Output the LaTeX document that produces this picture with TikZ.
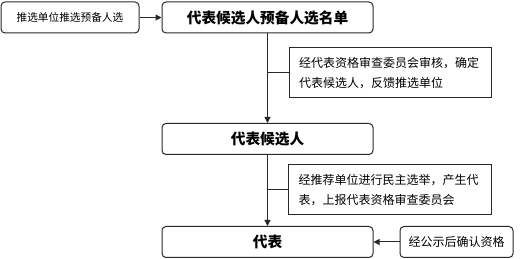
\documentclass[tikz,border=0pt]{standalone}
\usepackage{fontspec}
\usetikzlibrary{arrows.meta,positioning}
\newfontfamily\cjk{Noto Sans CJK SC}
\definecolor{ink}{RGB}{40,40,40}
\tikzset{
  >={Triangle[length=4.5pt,width=4.5pt]},
  stage/.style={draw=ink,rounded corners=3pt,line width=0.75pt,minimum width=158.25pt,
    minimum height=23.25pt,font=\cjk\fontsize{11}{13}\selectfont\bfseries},
  side/.style={draw=ink,rounded corners=3pt,line width=0.75pt,minimum height=23.25pt,
    font=\cjk\fontsize{9}{11}\selectfont},
  note/.style={draw=ink,line width=0.75pt,text width=137pt,inner xsep=7.5pt,
    minimum height=37.5pt,align=left,font=\cjk\fontsize{9}{15}\selectfont},
  flow/.style={->,line width=0.75pt,draw=ink},
  link/.style={line width=0.75pt,draw=ink},
}
\begin{document}
\begin{tikzpicture}[x=0.75pt,y=-0.75pt]
  \useasboundingbox (0,0) rectangle (521,259);
  % main stages
  \node[stage] (yubei) at (267.5,17.5) {代表候选人预备人选名单};
  \node[stage] (houxuan) at (267.5,139) {代表候选人};
  \node[stage] (daibiao) at (267.5,242) {代表};
  % side boxes
  \node[side,minimum width=103.5pt,font=\cjk\fontsize{8}{10}\selectfont] (tuixuan) at (70,17.5) {推选单位推选预备人选};
  \node[side,minimum width=84.75pt] (gongshi) at (456.5,242) {经公示后确认资格};
  % notes
  \node[note] (shenhe) at (390.5,73) {经代表资格审查委员会审核，确定\\代表候选人，反馈推选单位};
  \node[note] (xuanju) at (390,190) {经推荐单位进行民主选举，产生代\\表，上报代表资格审查委员会};
  \draw[flow] (tuixuan) -- (yubei);
  \draw[flow] (yubei) -- (houxuan);
  \draw[flow] (houxuan) -- (daibiao);
  \draw[flow] (gongshi) -- (daibiao);
  \draw[link] (shenhe.west) -- (shenhe.west -| yubei.south);
  \draw[link] (xuanju.west) -- (xuanju.west -| houxuan.south);
\end{tikzpicture}
\end{document}
